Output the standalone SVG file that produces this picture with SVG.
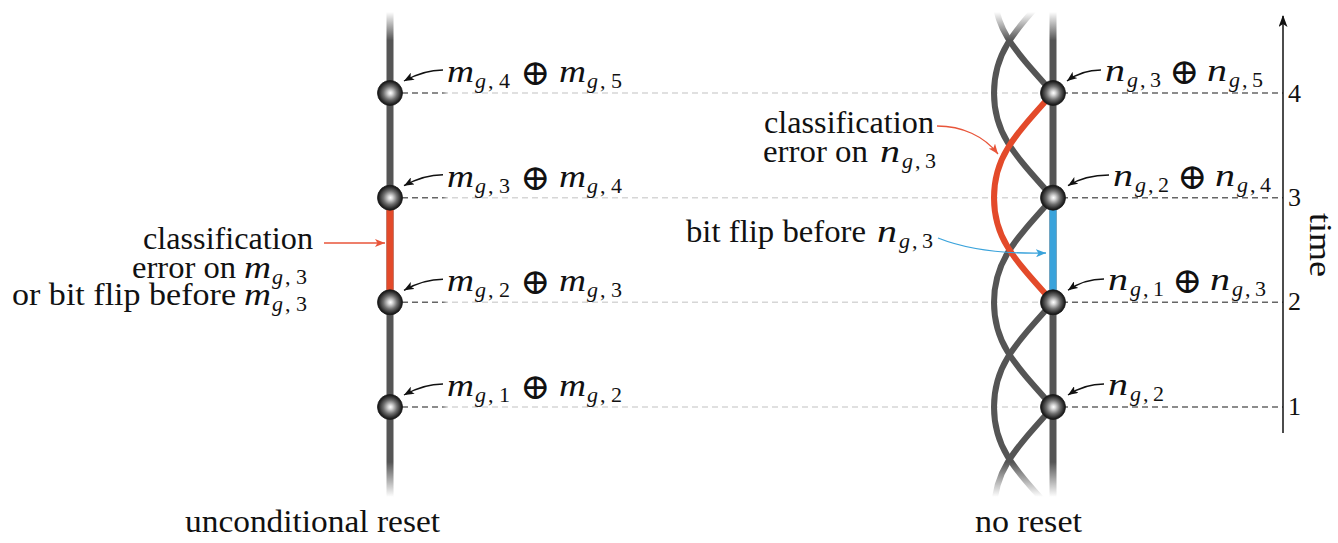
<svg xmlns="http://www.w3.org/2000/svg" width="1338" height="543" viewBox="0 0 1338 543" font-family="Liberation Serif, DejaVu Serif, serif">
<style>
.t{font-size:31px;fill:#111}
.mt{fill:#111}
.mi{font-style:italic;font-size:32px}
.si{font-style:italic;font-size:22px}
.sr{font-style:normal;font-size:22px}
.op{font-size:36px;font-style:normal;font-weight:300}
.num{font-size:26px;fill:#111}
.wire{stroke:#555;stroke-width:7;fill:none}
.strand{stroke:#555;stroke-width:6;fill:none}
.dash{stroke:url(#dg);stroke-width:1.5;stroke-dasharray:6 4;fill:none}
.ptr{stroke:#111;stroke-width:1.4;fill:none;marker-end:url(#ah)}
.ball{fill:url(#bg);stroke:#1a1a1a;stroke-width:0.8}
</style>
<defs>
<linearGradient id="fade" gradientUnits="userSpaceOnUse" x1="0" y1="0" x2="0" y2="543">
<stop offset="0" stop-color="#000"/>
<stop offset="0.022" stop-color="#000"/>
<stop offset="0.074" stop-color="#fff"/>
<stop offset="0.851" stop-color="#fff"/>
<stop offset="0.915" stop-color="#000"/>
<stop offset="1" stop-color="#000"/>
</linearGradient>
<mask id="fm" maskUnits="userSpaceOnUse" x="0" y="0" width="1338" height="543">
<rect x="0" y="0" width="1338" height="543" fill="url(#fade)"/>
</mask>
<linearGradient id="dg" gradientUnits="userSpaceOnUse" x1="402" y1="0" x2="1283" y2="0">
<stop offset="0" stop-color="#666"/>
<stop offset="0.046" stop-color="#666"/>
<stop offset="0.052" stop-color="#d6d6d6"/>
<stop offset="0.745" stop-color="#d6d6d6"/>
<stop offset="0.751" stop-color="#666"/>
<stop offset="1" stop-color="#666"/>
</linearGradient>
<radialGradient id="bg" cx="0.5" cy="0.5" r="0.5" fx="0.52" fy="0.5">
<stop offset="0" stop-color="#ffffff"/>
<stop offset="0.18" stop-color="#d8d8d8"/>
<stop offset="0.55" stop-color="#6e6e6e"/>
<stop offset="0.85" stop-color="#2c2c2c"/>
<stop offset="1" stop-color="#111"/>
</radialGradient>
<marker id="ah" viewBox="0 0 10 8" refX="10" refY="4" markerWidth="10" markerHeight="8" markerUnits="userSpaceOnUse" orient="auto">
<path d="M0,0 L10,4 L0,8 L2.5,4 Z" fill="#111"/>
</marker>
<marker id="ar" viewBox="0 0 10 8" refX="10" refY="4" markerWidth="10" markerHeight="8" markerUnits="userSpaceOnUse" orient="auto">
<path d="M0,0 L10,4 L0,8 L2.5,4 Z" fill="#e8553a"/>
</marker>
<marker id="ab" viewBox="0 0 10 8" refX="10" refY="4" markerWidth="10" markerHeight="8" markerUnits="userSpaceOnUse" orient="auto">
<path d="M0,0 L10,4 L0,8 L2.5,4 Z" fill="#3aa3db"/>
</marker>
<marker id="at" viewBox="0 0 12 9" refX="11" refY="4.5" markerWidth="12" markerHeight="9" markerUnits="userSpaceOnUse" orient="auto">
<path d="M0,0 L12,4.5 L0,9 L3,4.5 Z" fill="#111"/>
</marker>
</defs>

<g id="gridlines">
<line class="dash" x1="402" y1="93" x2="1283" y2="93"/>
<line class="dash" x1="402" y1="197.7" x2="1283" y2="197.7"/>
<line class="dash" x1="402" y1="302.3" x2="1283" y2="302.3"/>
<line class="dash" x1="402" y1="407" x2="1283" y2="407"/>
</g>

<g id="connectors">
<g mask="url(#fm)">
<line class="wire" x1="390" y1="0" x2="390" y2="543"/>
<line class="wire" x1="1053" y1="0" x2="1053" y2="543"/>
<path class="strand" d="M1053,-116.3 C1012.5,-71.3 994,-51.6 994,-11.6 C994,28.4 1012.5,48 1053,93"/>
<path class="strand" d="M1053,-11.7 C1012.5,33.3 994,53 994,93 C994,133 1012.5,152.6 1053,197.7"/>
<path class="strand" d="M1053,197.7 C1012.5,242.7 994,262.4 994,302.4 C994,342.4 1012.5,362 1053,407"/>
<path class="strand" d="M1053,302.3 C1012.5,347.3 994,367 994,407 C994,447 1012.5,466.6 1053,511.6"/>
<path class="strand" d="M1053,407 C1012.5,452 994,471.7 994,511.7 C994,551.7 1012.5,571.3 1053,616.3"/>
</g>
<line x1="390" y1="197.7" x2="390" y2="302.3" stroke="#e34a2a" stroke-width="7"/>
<line x1="1053" y1="197.7" x2="1053" y2="302.3" stroke="#3aa3db" stroke-width="7"/>
<path d="M1053,93 C1012.5,138 994,157.7 994,197.7 C994,237.7 1012.5,257.3 1053,302.3" fill="none" stroke="#e34a2a" stroke-width="6"/>
<line x1="324" y1="243" x2="385" y2="243" stroke="#e8553a" stroke-width="1.3" marker-end="url(#ar)"/>
<path d="M937,126 C962,126 984,136 998,154" fill="none" stroke="#e8553a" stroke-width="1.3" marker-end="url(#ar)"/>
<path d="M938,238 C968,250 1005,254 1046,253" fill="none" stroke="#3aa3db" stroke-width="1.3" marker-end="url(#ab)"/>
<path class="ptr" d="M443,70 C428,70 413,76 404,81"/>
<path class="ptr" d="M443,174.7 C428,174.7 413,180.7 404,185.7"/>
<path class="ptr" d="M443,279.3 C428,279.3 413,285.3 404,290.3"/>
<path class="ptr" d="M443,384 C428,384 413,390 404,395"/>
<path class="ptr" d="M1101,70 C1086,70 1075,75 1067,81"/>
<path class="ptr" d="M1109,175 C1092,175 1077,180 1068,185.7"/>
<path class="ptr" d="M1104,279 C1088,279 1077,284 1068,290.3"/>
<path class="ptr" d="M1104,384 C1088,384 1077,389 1068,395"/>
</g>

<g id="left-nodes">
<g id="node-m4"><circle class="ball" cx="390" cy="93" r="12.5"/>
<text class="mt" y="82"><tspan class="mi" x="447" textLength="27" lengthAdjust="spacingAndGlyphs">m</tspan><tspan class="si" x="475" y="88">g</tspan><tspan class="sr" x="488">,</tspan><tspan class="sr" x="499">4</tspan><tspan class="op" x="520" y="85">⊕</tspan><tspan class="mi" x="559" y="82" textLength="27" lengthAdjust="spacingAndGlyphs">m</tspan><tspan class="si" x="587" y="88">g</tspan><tspan class="sr" x="600">,</tspan><tspan class="sr" x="611">5</tspan></text></g>
<g id="node-m3"><circle class="ball" cx="390" cy="197.7" r="12.5"/>
<text class="mt" y="186.7"><tspan class="mi" x="447" textLength="27" lengthAdjust="spacingAndGlyphs">m</tspan><tspan class="si" x="475" y="192.7">g</tspan><tspan class="sr" x="488">,</tspan><tspan class="sr" x="499">3</tspan><tspan class="op" x="520" y="189.7">⊕</tspan><tspan class="mi" x="559" y="186.7" textLength="27" lengthAdjust="spacingAndGlyphs">m</tspan><tspan class="si" x="587" y="192.7">g</tspan><tspan class="sr" x="600">,</tspan><tspan class="sr" x="611">4</tspan></text></g>
<g id="node-m2"><circle class="ball" cx="390" cy="302.3" r="12.5"/>
<text class="mt" y="291.3"><tspan class="mi" x="447" textLength="27" lengthAdjust="spacingAndGlyphs">m</tspan><tspan class="si" x="475" y="297.3">g</tspan><tspan class="sr" x="488">,</tspan><tspan class="sr" x="499">2</tspan><tspan class="op" x="520" y="294.3">⊕</tspan><tspan class="mi" x="559" y="291.3" textLength="27" lengthAdjust="spacingAndGlyphs">m</tspan><tspan class="si" x="587" y="297.3">g</tspan><tspan class="sr" x="600">,</tspan><tspan class="sr" x="611">3</tspan></text></g>
<g id="node-m1"><circle class="ball" cx="390" cy="407" r="12.5"/>
<text class="mt" y="396"><tspan class="mi" x="447" textLength="27" lengthAdjust="spacingAndGlyphs">m</tspan><tspan class="si" x="475" y="402">g</tspan><tspan class="sr" x="488">,</tspan><tspan class="sr" x="499">1</tspan><tspan class="op" x="520" y="399">⊕</tspan><tspan class="mi" x="559" y="396" textLength="27" lengthAdjust="spacingAndGlyphs">m</tspan><tspan class="si" x="587" y="402">g</tspan><tspan class="sr" x="600">,</tspan><tspan class="sr" x="611">2</tspan></text></g>
</g>

<g id="right-nodes">
<g id="node-n4"><circle class="ball" cx="1053" cy="93" r="12.5"/>
<text class="mt" y="81"><tspan class="mi" x="1105" textLength="20" lengthAdjust="spacingAndGlyphs">n</tspan><tspan class="si" x="1127" y="87">g</tspan><tspan class="sr" x="1140">,</tspan><tspan class="sr" x="1150">3</tspan><tspan class="op" x="1169" y="84">⊕</tspan><tspan class="mi" x="1207" y="81" textLength="20" lengthAdjust="spacingAndGlyphs">n</tspan><tspan class="si" x="1229" y="87">g</tspan><tspan class="sr" x="1242">,</tspan><tspan class="sr" x="1252">5</tspan></text></g>
<g id="node-n3"><circle class="ball" cx="1053" cy="197.7" r="12.5"/>
<text class="mt" y="186"><tspan class="mi" x="1113" textLength="20" lengthAdjust="spacingAndGlyphs">n</tspan><tspan class="si" x="1135" y="192">g</tspan><tspan class="sr" x="1148">,</tspan><tspan class="sr" x="1158">2</tspan><tspan class="op" x="1177" y="189">⊕</tspan><tspan class="mi" x="1215" y="186" textLength="20" lengthAdjust="spacingAndGlyphs">n</tspan><tspan class="si" x="1237" y="192">g</tspan><tspan class="sr" x="1250">,</tspan><tspan class="sr" x="1260">4</tspan></text></g>
<g id="node-n2"><circle class="ball" cx="1053" cy="302.3" r="12.5"/>
<text class="mt" y="290"><tspan class="mi" x="1108" textLength="20" lengthAdjust="spacingAndGlyphs">n</tspan><tspan class="si" x="1130" y="296">g</tspan><tspan class="sr" x="1143">,</tspan><tspan class="sr" x="1153">1</tspan><tspan class="op" x="1172" y="293">⊕</tspan><tspan class="mi" x="1210" y="290" textLength="20" lengthAdjust="spacingAndGlyphs">n</tspan><tspan class="si" x="1232" y="296">g</tspan><tspan class="sr" x="1245">,</tspan><tspan class="sr" x="1255">3</tspan></text></g>
<g id="node-n1"><circle class="ball" cx="1053" cy="407" r="12.5"/>
<text class="mt" y="395"><tspan class="mi" x="1108" textLength="20" lengthAdjust="spacingAndGlyphs">n</tspan><tspan class="si" x="1130" y="401">g</tspan><tspan class="sr" x="1143">,</tspan><tspan class="sr" x="1153">2</tspan></text></g>
</g>

<g id="annotations">
<text class="t" x="313" y="249" text-anchor="end" textLength="170" lengthAdjust="spacingAndGlyphs">classification</text>
<text class="t" x="236" y="278" text-anchor="end" textLength="104" lengthAdjust="spacingAndGlyphs">error on</text>
<text class="mt" y="278"><tspan class="mi" x="244" textLength="27" lengthAdjust="spacingAndGlyphs">m</tspan><tspan class="si" x="272" y="284">g</tspan><tspan class="sr" x="285">,</tspan><tspan class="sr" x="296">3</tspan></text>
<text class="t" x="236" y="305" text-anchor="end" textLength="224" lengthAdjust="spacingAndGlyphs">or bit flip before</text>
<text class="mt" y="305"><tspan class="mi" x="244" textLength="27" lengthAdjust="spacingAndGlyphs">m</tspan><tspan class="si" x="272" y="311">g</tspan><tspan class="sr" x="285">,</tspan><tspan class="sr" x="296">3</tspan></text>

<text class="t" x="849" y="133" text-anchor="middle" textLength="170" lengthAdjust="spacingAndGlyphs">classification</text>
<text class="t" x="763" y="162" textLength="105" lengthAdjust="spacingAndGlyphs">error on</text>
<text class="mt" y="162"><tspan class="mi" x="880" textLength="20" lengthAdjust="spacingAndGlyphs">n</tspan><tspan class="si" x="902" y="168">g</tspan><tspan class="sr" x="915">,</tspan><tspan class="sr" x="925">3</tspan></text>
<text class="t" x="866" y="242" text-anchor="end" textLength="180" lengthAdjust="spacingAndGlyphs">bit flip before</text>
<text class="mt" y="242"><tspan class="mi" x="877" textLength="20" lengthAdjust="spacingAndGlyphs">n</tspan><tspan class="si" x="899" y="248">g</tspan><tspan class="sr" x="912">,</tspan><tspan class="sr" x="922">3</tspan></text>

<text class="t" x="185" y="532" textLength="255" lengthAdjust="spacingAndGlyphs">unconditional reset</text>
<text class="t" x="975" y="532" textLength="107" lengthAdjust="spacingAndGlyphs">no reset</text>
</g>

<g id="time-axis">
<line x1="1283" y1="433" x2="1283" y2="16" stroke="#111" stroke-width="1.5" marker-end="url(#at)"/>
<text class="num" x="1288" y="102">4</text>
<text class="num" x="1288" y="206">3</text>
<text class="num" x="1288" y="310">2</text>
<text class="num" x="1288" y="415">1</text>
<text class="t" transform="translate(1310,245) rotate(90)" text-anchor="middle" textLength="64" lengthAdjust="spacingAndGlyphs">time</text>
</g>
</svg>
